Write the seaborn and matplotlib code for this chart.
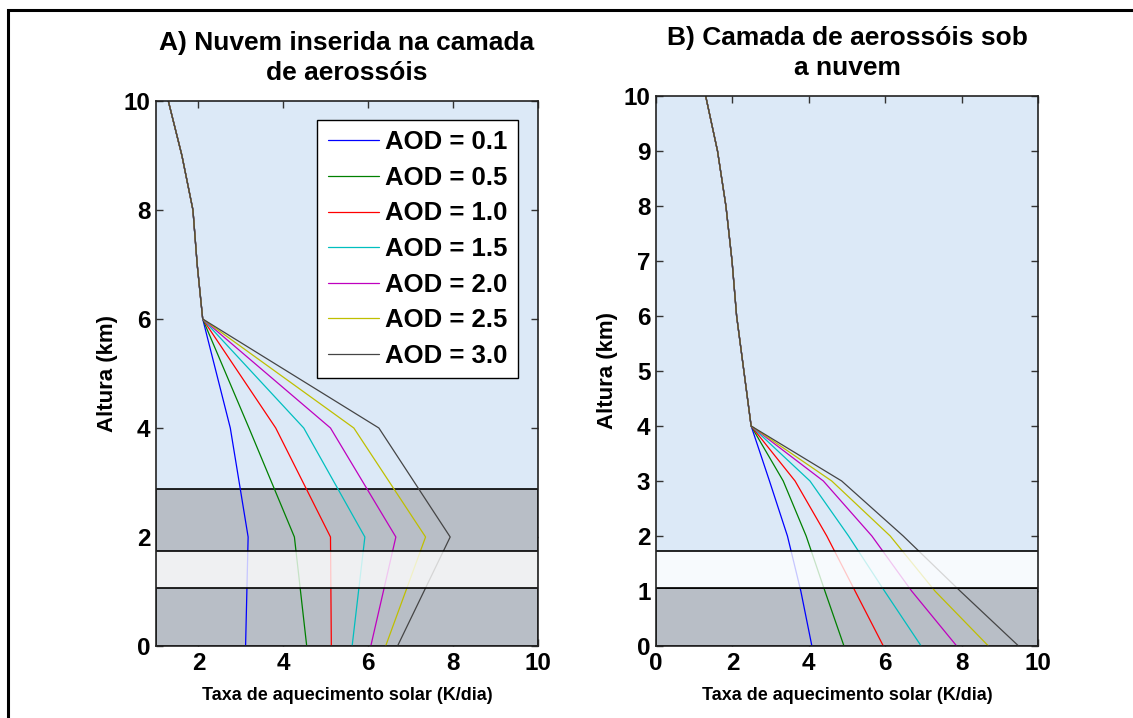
import numpy as np
import pandas as pd
import matplotlib
matplotlib.use("Agg")
import matplotlib.pyplot as plt
from matplotlib.patches import Rectangle
import seaborn as sns

# ---- data -----------------------------------------------------------------
aod_labels = ["AOD = 0.1", "AOD = 0.5", "AOD = 1.0", "AOD = 1.5",
              "AOD = 2.0", "AOD = 2.5", "AOD = 3.0"]

# Panel A: cloud embedded in the aerosol layer
alt_a = [10, 9, 8, 7, 6, 4, 2, 0]
heat_a_01 = [1.29, 1.61, 1.87, 1.97, 2.10, 2.75, 3.17, 3.11]
heat_a_05 = [1.29, 1.61, 1.87, 1.97, 2.10, 3.19, 4.26, 4.55]
heat_a_10 = [1.29, 1.61, 1.87, 1.97, 2.10, 3.82, 5.11, 5.13]
heat_a_15 = [1.29, 1.61, 1.87, 1.97, 2.10, 4.48, 5.92, 5.62]
heat_a_20 = [1.29, 1.61, 1.87, 1.97, 2.10, 5.11, 6.65, 6.06]
heat_a_25 = [1.29, 1.61, 1.87, 1.97, 2.10, 5.66, 7.35, 6.41]
heat_a_30 = [1.29, 1.61, 1.87, 1.97, 2.10, 6.25, 7.93, 6.69]

# Panel B: aerosol layer below the cloud
alt_b = [10, 9, 8, 7, 6, 5, 4, 3, 2, 1, 0]
heat_b_01 = [1.30, 1.61, 1.83, 1.99, 2.11, 2.30, 2.49, 2.97, 3.44, 3.79, 4.08]
heat_b_05 = [1.30, 1.61, 1.83, 1.99, 2.11, 2.30, 2.49, 3.33, 3.93, 4.42, 4.92]
heat_b_10 = [1.30, 1.61, 1.83, 1.99, 2.11, 2.30, 2.49, 3.64, 4.47, 5.21, 5.95]
heat_b_15 = [1.30, 1.61, 1.83, 1.99, 2.11, 2.30, 2.49, 4.03, 5.04, 5.98, 6.94]
heat_b_20 = [1.30, 1.61, 1.83, 1.99, 2.11, 2.30, 2.49, 4.38, 5.65, 6.69, 7.87]
heat_b_25 = [1.30, 1.61, 1.83, 1.99, 2.11, 2.30, 2.49, 4.60, 6.13, 7.30, 8.70]
heat_b_30 = [1.30, 1.61, 1.83, 1.99, 2.11, 2.30, 2.49, 4.86, 6.47, 7.96, 9.49]

# layer limits (km)
aerosol_top_a, cloud_base_a, cloud_top_a = 2.88, 1.06, 1.74
aerosol_top_b, cloud_base_b, cloud_top_b = 1.05, 1.05, 1.72

titles = ["A) Nuvem inserida na camada\nde aerossóis",
          "B) Camada de aerossóis sob\na nuvem"]
xlabel = "Taxa de aquecimento solar (K/dia)"
ylabel = "Altura (km)"


def long_form(alt, series):
    frames = []
    for lab, vals in zip(aod_labels, series):
        frames.append(pd.DataFrame({"alt": alt, "taxa": vals, "AOD": lab}))
    return pd.concat(frames, ignore_index=True)


df_a = long_form(alt_a, [heat_a_01, heat_a_05, heat_a_10, heat_a_15,
                         heat_a_20, heat_a_25, heat_a_30])
df_b = long_form(alt_b, [heat_b_01, heat_b_05, heat_b_10, heat_b_15,
                         heat_b_20, heat_b_25, heat_b_30])

# ---- style ----------------------------------------------------------------
sns.set_style("ticks")
FONT = ["Liberation Sans", "DejaVu Sans"]
plt.rcParams["font.family"] = FONT
plt.rcParams["font.weight"] = "bold"
plt.rcParams["axes.labelweight"] = "bold"
for key in ("text.color", "axes.labelcolor", "xtick.labelcolor",
            "ytick.labelcolor"):
    plt.rcParams[key] = "black"

palette = {lab: c for lab, c in zip(aod_labels, [
    (0.0, 0.0, 1.0), (0.0, 0.5, 0.0), (1.0, 0.0, 0.0), (0.0, 0.75, 0.75),
    (0.75, 0.0, 0.75), (0.75, 0.75, 0.0), (0.27, 0.27, 0.27)])}

BG = "#dce9f7"
DARK = "#b8bec6"

fig = plt.figure(figsize=(11.33, 7.18), dpi=100)
fig.patch.set_facecolor("white")
ax_a = fig.add_axes([0.1377, 0.1003, 0.3372, 0.759])
ax_b = fig.add_axes([0.5790, 0.1003, 0.3372, 0.766])

# outer frame (left and top edges)
fig.patches.append(Rectangle((8 / 1133, -0.1), 1.2, (718 - 10) / 718 + 0.1,
                             transform=fig.transFigure, fill=False,
                             edgecolor="black", linewidth=2.2, zorder=0))

for ax, df in ((ax_a, df_a), (ax_b, df_b)):
    ax.set_facecolor(BG)
    sns.lineplot(data=df, x="taxa", y="alt", hue="AOD", palette=palette,
                 estimator=None, sort=False, orient="y", linewidth=0.9,
                 ax=ax, legend=(ax is ax_a), zorder=3)

# panel A layers
ax_a.axhspan(0, aerosol_top_a, facecolor=DARK, edgecolor="black",
             linewidth=1.2, zorder=1)
ax_a.axhspan(cloud_base_a, cloud_top_a, facecolor="white", alpha=0.78,
             edgecolor="none", zorder=4)
for yy in (cloud_base_a, cloud_top_a):
    ax_a.axhline(yy, color="black", linewidth=1.2, zorder=5)

# panel B layers
ax_b.axhspan(0, aerosol_top_b, facecolor=DARK, edgecolor="black",
             linewidth=1.2, zorder=1)
ax_b.axhspan(cloud_base_b, cloud_top_b, facecolor="white", alpha=0.78,
             edgecolor="none", zorder=4)
for yy in (cloud_base_b, cloud_top_b):
    ax_b.axhline(yy, color="black", linewidth=1.2, zorder=5)

ax_a.set_xlim(1, 10)
ax_a.set_ylim(0, 10)
ax_a.set_xticks([2, 4, 6, 8, 10])
ax_a.set_yticks([0, 2, 4, 6, 8, 10])
ax_b.set_xlim(0, 10)
ax_b.set_ylim(0, 10)
ax_b.set_xticks([0, 2, 4, 6, 8, 10])
ax_b.set_yticks(list(range(0, 11)))

for ax, title in ((ax_a, titles[0]), (ax_b, titles[1])):
    ax.tick_params(direction="in", length=5, width=1, top=True, right=True,
                   labelsize=17.5, pad=4, color="#333333",
                   labelcolor="black")
    for lab in ax.get_xticklabels() + ax.get_yticklabels():
        lab.set_fontweight("bold")
    for sp in ax.spines.values():
        sp.set_visible(True)
        sp.set_linewidth(1.2)
        sp.set_color("#222222")
        sp.set_zorder(6)
    ax.set_xlabel(xlabel, fontsize=13, fontweight="bold", labelpad=9,
                  color="black")
    ax.set_ylabel(ylabel, fontsize=16, fontweight="bold", labelpad=4,
                  color="black")
    ax.set_title(title, fontsize=19, fontweight="bold", pad=15,
                 linespacing=1.35, color="black")

# legend in panel A
handles, labels = ax_a.get_legend_handles_labels()
ax_a.get_legend().remove()
leg = ax_a.legend(handles, labels, loc="upper right",
                  bbox_to_anchor=(0.948, 0.965), borderaxespad=0,
                  frameon=True, fancybox=False, framealpha=1,
                  edgecolor="black", facecolor="white", handlelength=2.0,
                  handletextpad=0.25, labelspacing=0.45, borderpad=0.4,
                  prop={"size": 18.5, "weight": "bold", "family": FONT})
leg.get_frame().set_linewidth(1.0)
for t in leg.get_texts():
    t.set_color("black")
leg.set_zorder(10)

fig.savefig("out.png", dpi=100)
